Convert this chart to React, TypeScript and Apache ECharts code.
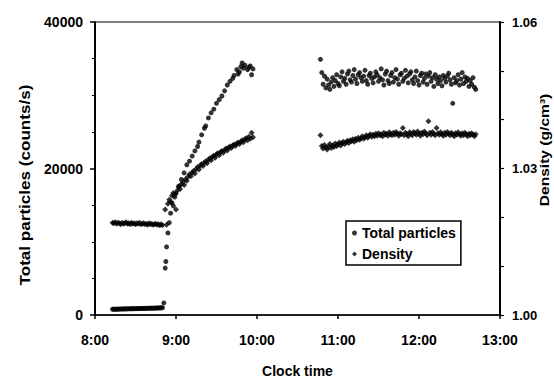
import React, { useEffect, useRef } from "react";
import * as echarts from "echarts";

// Clock time in minutes after midnight, value pairs
const tpFlat: [number, number][] = [
  [493, 780], [494, 800], [495, 760], [496, 820], [497, 790], [498, 810], [499, 830], [500, 800],
  [501, 840], [502, 820], [503, 850], [504, 830], [505, 860], [506, 840], [507, 870], [508, 850],
  [509, 880], [510, 860], [511, 890], [512, 870], [513, 900], [514, 880], [515, 910], [516, 890],
  [517, 920], [518, 900], [519, 930], [520, 910], [521, 940], [522, 920], [523, 950], [524, 930],
  [525, 960], [526, 950], [527, 980], [528, 960], [529, 1000], [530, 990], [531, 1650],
];

const tpRise: [number, number][] = [
  [532, 6400], [532.5, 7300], [533, 9300], [534, 11200], [535, 12600], [536, 13900], [537, 15300],
  [538, 14900], [539, 16100], [540, 16600], [542, 17600], [544, 18500], [546, 19400], [548, 20500],
  [550, 21000], [552, 21700], [554, 22400], [556, 23000], [557, 23600], [559, 24600], [561, 25500],
  [562, 25800], [564, 26900], [566, 27600], [568, 28100], [570, 28900], [572, 29400], [574, 29900],
  [576, 30600], [578, 31400], [580, 31900], [582, 32300], [583, 32700], [585, 33500], [586, 32900],
  [587, 33200], [588, 33900], [589, 34400], [590, 33700], [591, 34100], [593, 33500], [594, 33800],
  [595, 34000], [596, 32800], [597, 33600],
];

const tpLate: [number, number][] = [
  [647, 34900], [648, 33100], [649, 31500], [650, 32600], [651, 31000], [652, 32200], [653, 31400],
  [654, 30800], [655, 31800], [656, 32400], [657, 31200], [658, 32000], [659, 32800], [660, 31600],
  [661, 31300], [662, 32500], [663, 33200], [664, 31900], [665, 32300], [666, 31500], [667, 32900],
  [668, 33300], [669, 32100], [670, 31800], [671, 32700], [672, 33500], [673, 32200], [674, 31600],
  [675, 32800], [676, 33100], [677, 32400], [678, 31900], [679, 32600], [680, 33400], [681, 32000],
  [682, 31500], [683, 32700], [684, 33000], [685, 32300], [686, 31700], [687, 32500], [688, 33200],
  [689, 32800], [690, 31900], [691, 32400], [692, 33600], [693, 32100], [694, 31400], [695, 32900],
  [696, 33300], [697, 32000], [698, 31600], [699, 32700], [700, 33100], [701, 31800], [702, 32400],
  [703, 33500], [704, 32200], [705, 31500], [706, 32800], [707, 33000], [708, 31900], [709, 32300],
  [710, 33400], [711, 32600], [712, 31700], [713, 32900], [714, 33200], [715, 32100], [716, 31600],
  [717, 32500], [718, 33300], [719, 32000], [720, 31400], [721, 32700], [722, 33000], [723, 31800],
  [724, 32300], [725, 32900], [726, 31500], [727, 32600], [728, 33100], [729, 31900], [730, 32400],
  [731, 31200], [732, 32800], [733, 32200], [734, 31600], [735, 32500], [736, 32000], [737, 31300],
  [738, 32700], [739, 32300], [740, 31800], [741, 32600], [742, 33000], [743, 32100], [744, 31500],
  [745, 28900], [746, 32400], [747, 31700], [748, 32000], [749, 32800], [750, 31400], [751, 32200],
  [752, 33100], [753, 31600], [754, 32500], [755, 31900], [756, 32300], [757, 31200], [758, 32000],
  [759, 31500], [760, 32400], [761, 31100], [762, 30800],
];

const dnFlat: [number, number][] = [
  [493, 1.0189], [494, 1.0188], [495, 1.019], [496, 1.0187], [497, 1.0189], [498, 1.0188], [499, 1.0186],
  [500, 1.0189], [501, 1.0187], [502, 1.0188], [503, 1.019], [504, 1.0187], [505, 1.0188], [506, 1.0186],
  [507, 1.0189], [508, 1.0187], [509, 1.0188], [510, 1.0186], [511, 1.0188], [512, 1.0187], [513, 1.0189],
  [514, 1.0186], [515, 1.0187], [516, 1.0188], [517, 1.0186], [518, 1.0187], [519, 1.0185], [520, 1.0188],
  [521, 1.0186], [522, 1.0187], [523, 1.0185], [524, 1.0186], [525, 1.0187], [526, 1.0185], [527, 1.0186],
  [528, 1.0184], [529, 1.0186], [530, 1.0184],
];

const dnRise: [number, number][] = [
  [532, 1.0216], [533, 1.0185], [534, 1.0228], [535, 1.0236], [536, 1.0232], [537, 1.0244], [538, 1.025],
  [539, 1.0246], [540, 1.0216], [541, 1.0255], [542, 1.0262], [543, 1.0258], [544, 1.0268], [545, 1.0272],
  [546, 1.0266], [547, 1.0278], [548, 1.0275], [549, 1.0283], [550, 1.0288], [551, 1.0284], [552, 1.0292],
  [553, 1.0295], [554, 1.029], [555, 1.0299], [556, 1.0303], [557, 1.0298], [558, 1.0306], [559, 1.0309],
  [560, 1.0305], [561, 1.0312], [562, 1.0315], [563, 1.0311], [564, 1.0318], [565, 1.0321], [566, 1.0317],
  [567, 1.0324], [568, 1.0326], [569, 1.0322], [570, 1.0329], [571, 1.0331], [572, 1.0327], [573, 1.0334],
  [574, 1.0336], [575, 1.0332], [576, 1.0338], [577, 1.0341], [578, 1.0337], [579, 1.0343], [580, 1.0345],
  [581, 1.0342], [582, 1.0347], [583, 1.0349], [584, 1.0346], [585, 1.0351], [586, 1.0353], [587, 1.035],
  [588, 1.0355], [589, 1.0358], [590, 1.0354], [591, 1.036], [592, 1.0362], [593, 1.0358], [594, 1.0365],
  [595, 1.0361], [596, 1.0373], [597, 1.0364],
];

const dnLate: [number, number][] = [
  [647, 1.0368], [648, 1.0346], [649, 1.0341], [650, 1.0348], [651, 1.0343], [652, 1.0339], [653, 1.0345],
  [654, 1.035], [655, 1.0342], [656, 1.0347], [657, 1.0344], [658, 1.0351], [659, 1.0346], [660, 1.0349],
  [661, 1.0353], [662, 1.0347], [663, 1.0352], [664, 1.0355], [665, 1.035], [666, 1.0354], [667, 1.0357],
  [668, 1.0352], [669, 1.0358], [670, 1.0356], [671, 1.036], [672, 1.0355], [673, 1.0361], [674, 1.0358],
  [675, 1.0363], [676, 1.0359], [677, 1.0362], [678, 1.0366], [679, 1.0361], [680, 1.0364], [681, 1.0368],
  [682, 1.0363], [683, 1.0367], [684, 1.037], [685, 1.0365], [686, 1.0369], [687, 1.0366], [688, 1.0371],
  [689, 1.0367], [690, 1.0372], [691, 1.0368], [692, 1.037], [693, 1.0366], [694, 1.0373], [695, 1.0369],
  [696, 1.0371], [697, 1.0367], [698, 1.0374], [699, 1.037], [700, 1.0368], [701, 1.0373], [702, 1.0369],
  [703, 1.0375], [704, 1.0371], [705, 1.0367], [706, 1.0372], [707, 1.037], [708, 1.0383], [709, 1.0368],
  [710, 1.0373], [711, 1.037], [712, 1.0366], [713, 1.0374], [714, 1.0371], [715, 1.0368], [716, 1.0375],
  [717, 1.0372], [718, 1.0369], [719, 1.0376], [720, 1.0371], [721, 1.0367], [722, 1.0373], [723, 1.037],
  [724, 1.0376], [725, 1.0372], [726, 1.0368], [727, 1.0397], [728, 1.0373], [729, 1.0369], [730, 1.0375],
  [731, 1.0371], [732, 1.0368], [733, 1.0383], [734, 1.0372], [735, 1.0369], [736, 1.0374], [737, 1.037],
  [738, 1.0367], [739, 1.0373], [740, 1.0369], [741, 1.0375], [742, 1.0371], [743, 1.0368], [744, 1.0373],
  [745, 1.037], [746, 1.0366], [747, 1.0372], [748, 1.0369], [749, 1.0374], [750, 1.037], [751, 1.0367],
  [752, 1.0372], [753, 1.0368], [754, 1.0373], [755, 1.037], [756, 1.0366], [757, 1.0371], [758, 1.0368],
  [759, 1.0372], [760, 1.0369], [761, 1.0366], [762, 1.037],
];

const seriesNames = ["Total particles", "Density"];
const leftTitle = "Total particles (counts/s)";
const rightTitle = "Density (g/cm³)";
const xTitle = "Clock time";
const rightLabels = ["1.00", "1.03", "1.06"];

const FONT = "Liberation Sans, Arial, Helvetica, sans-serif";

export default function App() {
  const ref = useRef<HTMLDivElement>(null);
  useEffect(() => {
    if (!ref.current) return;
    const chart = echarts.init(ref.current, null, { renderer: "svg" });
    const axisText = { color: "#000", fontFamily: FONT, fontSize: 14, fontWeight: "bold" as const };
    chart.setOption({
      animation: false,
      backgroundColor: "#fff",
      grid: {
        left: 95, right: 54, top: 22, bottom: 77,
        show: true, borderColor: "#000", borderWidth: 1,
        outerBoundsMode: "none",
      },
      legend: {
        left: 346, top: 221,
        orient: "vertical",
        data: [
          { name: seriesNames[0], icon: "circle" },
          { name: seriesNames[1], icon: "diamond" },
        ],
        itemWidth: 5, itemHeight: 5, itemGap: 5,
        padding: [4, 5, 3, 6],
        borderColor: "#000", borderWidth: 1.5,
        textStyle: { color: "#000", fontFamily: FONT, fontSize: 14, fontWeight: "bold", lineHeight: 16 },
      },
      xAxis: {
        type: "value", min: 480, max: 780, interval: 60,
        axisLine: { show: true, lineStyle: { color: "#000", width: 1.5 } },
        axisTick: { show: true, length: 4, lineStyle: { color: "#000", width: 1.5 } },
        splitLine: { show: false },
        axisLabel: { ...axisText, margin: 18, formatter: (v: number) => `${v / 60}:00` },
        name: xTitle, nameLocation: "middle", nameGap: 49,
        nameTextStyle: { color: "#000", fontFamily: FONT, fontSize: 14, fontWeight: "bold" },
      },
      yAxis: [
        {
          type: "value", min: 0, max: 40000, interval: 20000, position: "left",
          axisLine: { show: true, lineStyle: { color: "#000", width: 2 } },
          axisTick: { show: true, length: 5, lineStyle: { color: "#000", width: 1.5 } },
          minorTick: { show: true, splitNumber: 4, length: 3, lineStyle: { color: "#000", width: 1 } },
          splitLine: { show: false },
          axisLabel: { ...axisText, margin: 12, formatter: (v: number) => String(v) },
        },
        {
          type: "value", min: 1.0, max: 1.06, interval: 0.01, position: "right",
          axisLine: { show: true, lineStyle: { color: "#000", width: 2 } },
          axisTick: { show: true, length: 4, lineStyle: { color: "#000", width: 1.2 } },
          splitLine: { show: false },
          axisLabel: {
            ...axisText, fontSize: 13, margin: 12,
            formatter: (v: number) => (rightLabels.includes(v.toFixed(2)) ? v.toFixed(2) : ""),
          },
        },
      ],
      graphic: [
        {
          type: "text", x: 25, y: 185, rotation: Math.PI / 2, scaleX: 1.22,
          style: { text: leftTitle, fill: "#000", font: `bold 14px ${FONT}`, align: "center", verticalAlign: "middle" },
        },
        {
          type: "text", x: 544, y: 150, rotation: Math.PI / 2, scaleX: 1.2,
          style: { text: rightTitle, fill: "#000", font: `bold 13px ${FONT}`, align: "center", verticalAlign: "middle" },
        },
      ],
      series: [
        {
          name: seriesNames[0], type: "scatter", yAxisIndex: 0,
          symbol: "circle", symbolSize: 5,
          itemStyle: { color: "#000" },
          data: [...tpFlat, ...tpRise, ...tpLate],
        },
        {
          name: seriesNames[1], type: "scatter", yAxisIndex: 1,
          symbol: "diamond", symbolSize: 6,
          itemStyle: { color: "#000" },
          data: [...dnFlat, ...dnRise, ...dnLate],
        },
      ],
    });
    return () => chart.dispose();
  }, []);
  return <div ref={ref} style={{ width: 554, height: 392, position: "absolute", left: 0, top: 0 }} />;
}
